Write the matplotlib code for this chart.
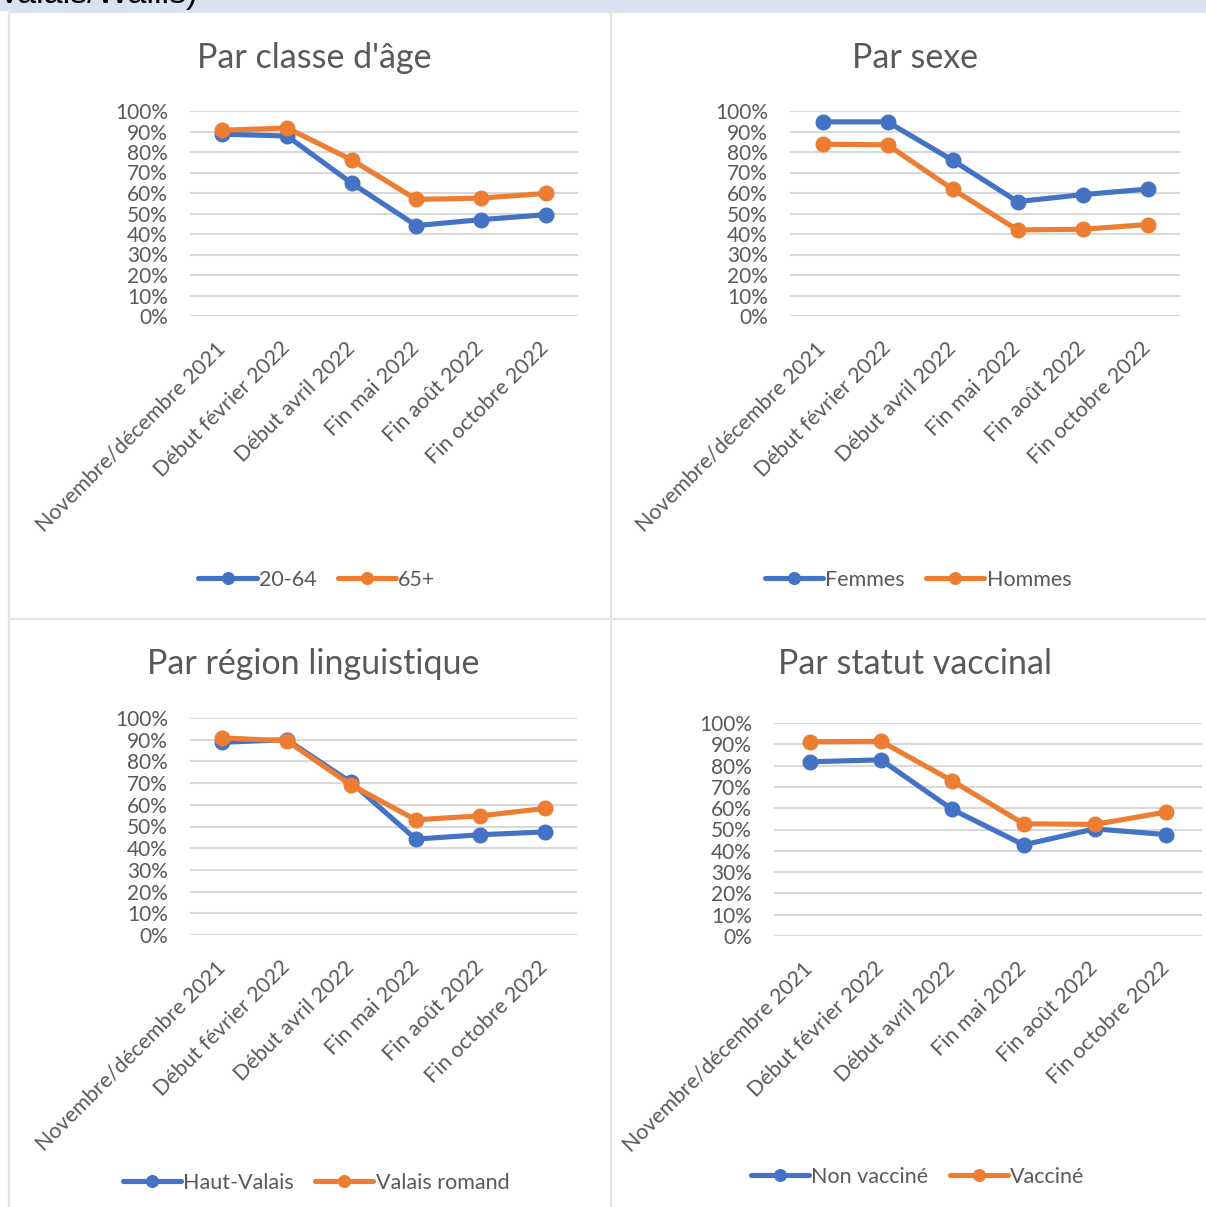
import matplotlib.pyplot as plt
from matplotlib.lines import Line2D
from matplotlib.patches import Rectangle

# categories (shared x axis)
periods = ["Novembre/décembre 2021", "Début février 2022", "Début avril 2022",
           "Fin mai 2022", "Fin août 2022", "Fin octobre 2022"]

# panel 1: par classe d'âge
age_20_64 = [88.7, 87.8, 64.8, 44.1, 47.0, 49.4]
age_65 = [90.6, 91.7, 76.2, 56.9, 57.5, 59.8]

# panel 2: par sexe
femmes = [94.7, 94.7, 76.0, 55.8, 59.2, 61.9]
hommes = [83.8, 83.5, 61.9, 42.0, 42.3, 44.6]

# panel 3: par région linguistique
haut_valais = [88.8, 90.0, 70.3, 44.2, 46.2, 47.5]
valais_romand = [90.8, 89.5, 69.1, 53.1, 54.9, 58.3]

# panel 4: par statut vaccinal
non_vaccine = [81.8, 82.7, 59.4, 42.8, 50.3, 47.6]
vaccine = [91.2, 91.4, 72.8, 52.7, 52.4, 58.2]

yticks = list(range(0, 101, 10))
ylabels = [f"{v}%" for v in yticks]

BLUE = "#4472C4"
ORANGE = "#ED7D31"
GRID = "#D9D9D9"
TXT = "#595959"
FONT = ["Lato", "DejaVu Sans"]

W, H = 1206, 1207
fig = plt.figure(figsize=(W / 100, H / 100), dpi=100)
plt.rcParams['font.family'] = FONT


def box(x0, y0, x1, y1):
    # pixel box -> figure fraction rect
    return [x0 / W, 1 - y1 / H, (x1 - x0) / W, (y1 - y0) / H]


def fx(x):
    return x / W


def fy(y):
    return 1 - y / H


# banner at the top (text is cut off in the original too)
fig.patches.append(Rectangle((0, fy(11)), 1, 11 / H, transform=fig.transFigure,
                             facecolor="#D9E2F3", edgecolor="none", zorder=0))
fig.text(fx(-2), fy(3.5), "Valais/Wallis)", fontsize=24.5, family="Liberation Sans",
         color="black", va="baseline", ha="left")

# panel borders
for xs, ys in [([fx(9), fx(9)], [fy(11), 0]),
               ([fx(611), fx(611)], [fy(11), 0]),
               ([fx(9), 1], [fy(619), fy(619)]),
               ([fx(9), 1], [fy(12), fy(12)])]:
    fig.add_artist(Line2D(xs, ys, transform=fig.transFigure, color="#E3E3E3", lw=1.6))

panels = [
    ("Par classe d'âge", (190, 111, 578, 316), 314, 58, 579,
     [("20-64", age_20_64, BLUE), ("65+", age_65, ORANGE)]),
    ("Par sexe", (790, 111, 1180, 316), 915, 58, 579,
     [("Femmes", femmes, BLUE), ("Hommes", hommes, ORANGE)]),
    ("Par région linguistique", (190, 718, 577, 935), 313, 664, 1182,
     [("Haut-Valais", haut_valais, BLUE), ("Valais romand", valais_romand, ORANGE)]),
    ("Par statut vaccinal", (774, 723, 1202, 936), 915, 664, 1176,
     [("Non vacciné", non_vaccine, BLUE), ("Vacciné", vaccine, ORANGE)]),
]

for title, (x0, y0, x1, y1), tx, ty, ly, series in panels:
    ax = fig.add_axes(box(x0, y0, x1, y1))
    xs = range(len(periods))
    handles = []
    for name, vals, col in series:
        h, = ax.plot(xs, vals, color=col, lw=3.7, marker="o", ms=10.5,
                     solid_capstyle="round", label=name, zorder=3)
        handles.append(h)
    ax.set_xlim(-0.5, len(periods) - 0.5)
    ax.set_ylim(0, 100)
    ax.set_yticks(yticks)
    ax.set_yticklabels(ylabels)
    ax.yaxis.grid(True, color=GRID, lw=1.5)
    ax.set_axisbelow(True)
    for s in ax.spines.values():
        s.set_visible(False)
    ax.axhline(0, color=GRID, lw=1.5, zorder=1)
    ax.tick_params(axis="both", length=0, colors=TXT, labelsize=15)
    ax.tick_params(axis="y", pad=16)
    ax.set_xticks(list(xs))
    ax.set_xticklabels(periods, rotation=45, ha="right", va="center",
                       rotation_mode="anchor", fontsize=15.5)
    ax.tick_params(axis="x", pad=21)
    fig.text(fx(tx), fy(ty), title, fontsize=24.5, color=TXT, ha="center", va="center")
    fig.legend(handles=handles, loc="center", bbox_to_anchor=(fx(tx + 3), fy(ly + 1)),
               ncol=2, frameon=False, fontsize=15.5, labelcolor=TXT,
               handlelength=2.7, handletextpad=0.1, columnspacing=1.0,
               markerscale=0.8)

fig.savefig("out.png", dpi=100)
